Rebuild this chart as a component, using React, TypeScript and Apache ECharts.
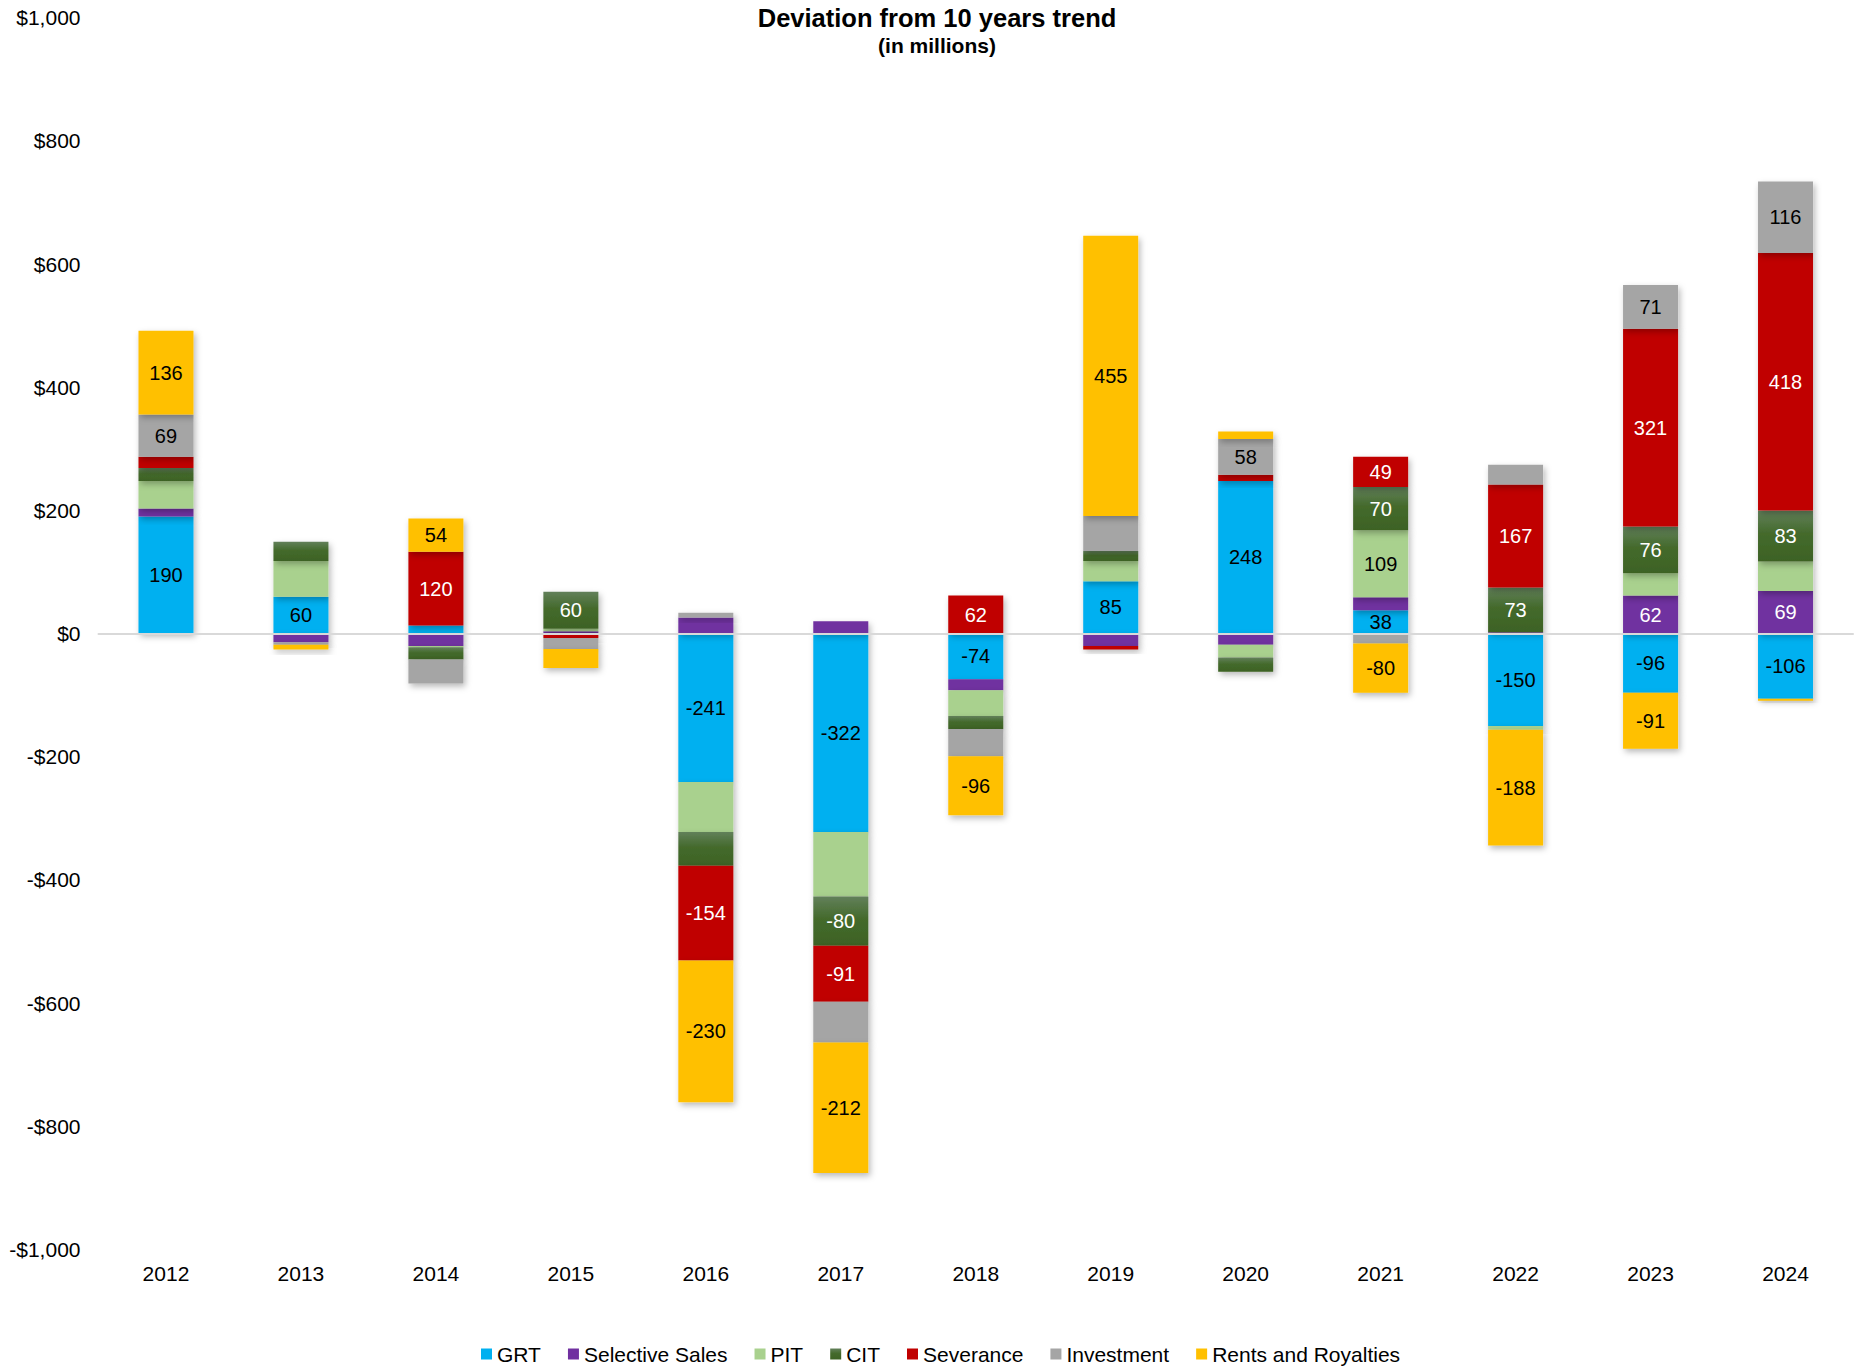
import React, { useEffect, useRef } from "react";
import * as echarts from "echarts";

const years = ["2012", "2013", "2014", "2015", "2016", "2017", "2018", "2019", "2020", "2021", "2022", "2023", "2024"];

const grt = [190, 60, 13, 0, -241, -322, -74, 85, 248, 38, -150, -96, -106];
const selectiveSales = [13, -14, -20, 4, 26, 20, -18, -20, -18, 21, 2, 62, 69];
const pit = [45, 58, -2, 4, -81, -105, -42, 33, -21, 109, -6, 36, 48];
const cit = [21, 31, -20, 60, -55, -80, -21, 16, -23, 70, 73, 76, 83];
const severance = [18, 0, 120, -7, -154, -91, 62, -6, 10, 49, 167, 321, 418];
const investment = [69, -4, -39, -18, 8, -66, -44, 57, 58, -16, 32, 71, 116];
const rentsRoyalties = [136, -8, 54, -31, -230, -212, -96, 455, 12, -80, -188, -91, -3];

// years whose segment carries a visible data label
const grtLabelled = ["2012", "2013", "2016", "2017", "2018", "2019", "2020", "2021", "2022", "2023", "2024"];
const selectiveLabelled = ["2023", "2024"];
const pitLabelled = ["2021"];
const citLabelled = ["2015", "2017", "2021", "2022", "2023", "2024"];
const severanceLabelled = ["2014", "2016", "2017", "2018", "2021", "2022", "2023", "2024"];
const investmentLabelled = ["2012", "2020", "2023", "2024"];
const rentsLabelled = ["2012", "2014", "2016", "2017", "2018", "2019", "2021", "2022", "2023"];

const yTicks = { min: -1000, max: 1000, step: 200 };

const FONT = "'Liberation Sans', Arial, sans-serif";

function fmtMoney(v: number): string {
  const a = Math.abs(v).toLocaleString("en-US");
  return v < 0 ? "-$" + a : "$" + a;
}

export default function App() {
  const ref = useRef<HTMLDivElement>(null);

  useEffect(() => {
    document.body.style.margin = "0";
    if (!ref.current) return;
    const chart = echarts.init(ref.current, undefined, { renderer: "svg" });

    const citGradient = new echarts.graphic.LinearGradient(0, 0, 0, 1, [
      { offset: 0, color: "#62805A" },
      { offset: 0.45, color: "#446A2C" },
      { offset: 1, color: "#3D6224" },
    ]);

    const defs: Array<{ name: string; data: number[]; color: any; labelColor: string; labelled: string[] }> = [
      { name: "GRT", data: grt, color: "#00B0F0", labelColor: "#000000", labelled: grtLabelled },
      { name: "Selective Sales", data: selectiveSales, color: "#7030A0", labelColor: "#FFFFFF", labelled: selectiveLabelled },
      { name: "PIT", data: pit, color: "#A9D18E", labelColor: "#000000", labelled: pitLabelled },
      { name: "CIT", data: cit, color: citGradient, labelColor: "#FFFFFF", labelled: citLabelled },
      { name: "Severance", data: severance, color: "#C00000", labelColor: "#FFFFFF", labelled: severanceLabelled },
      { name: "Investment", data: investment, color: "#A5A5A5", labelColor: "#000000", labelled: investmentLabelled },
      { name: "Rents and Royalties", data: rentsRoyalties, color: "#FFC000", labelColor: "#000000", labelled: rentsLabelled },
    ];

    const series = defs.map((d) => ({
      name: d.name,
      type: "bar",
      stack: "total",
      stackStrategy: "samesign",
      barWidth: 55,
      itemStyle: {
        color: d.color,
        shadowBlur: 6,
        shadowColor: "rgba(0,0,0,0.28)",
        shadowOffsetX: 2,
        shadowOffsetY: 3,
      },
      label: {
        show: false,
        position: "inside",
        color: d.labelColor,
        fontFamily: FONT,
        fontSize: 20,
      },
      emphasis: { disabled: true },
      data: d.data.map((v, i) => ({
        value: v,
        label: { show: d.labelled.includes(years[i]) },
      })),
    }));

    chart.setOption({
      animation: false,
      backgroundColor: "#FFFFFF",
      textStyle: { fontFamily: FONT },
      grid: { left: 98.5, right: 11, top: 17.8, bottom: 118.6, containLabel: false },
      legend: {
        left: 481,
        top: 1343,
        padding: 0,
        itemWidth: 11,
        itemHeight: 11,
        itemGap: 27,
        icon: "rect",
        textStyle: { fontFamily: FONT, fontSize: 21, color: "#000000", lineHeight: 22 },
        data: defs.map((d) => d.name),
      },
      xAxis: {
        type: "category",
        data: years,
        z: 5,
        axisTick: { show: false },
        axisLine: { show: true, onZero: true, lineStyle: { color: "#D9D9D9", width: 2 } },
        axisLabel: { fontFamily: FONT, fontSize: 21, color: "#000000", margin: 14, interval: 0 },
        splitLine: { show: false },
      },
      yAxis: {
        type: "value",
        min: yTicks.min,
        max: yTicks.max,
        interval: yTicks.step,
        axisLine: { show: false },
        axisTick: { show: false },
        splitLine: { show: false },
        axisLabel: {
          fontFamily: FONT,
          fontSize: 21,
          color: "#000000",
          margin: 18,
          formatter: (v: number) => fmtMoney(v),
        },
      },
      graphic: [
        {
          type: "text",
          x: 937,
          y: 18,
          style: {
            text: "Deviation from 10 years trend",
            align: "center",
            verticalAlign: "middle",
            fontFamily: FONT,
            fontWeight: "bold",
            fontSize: 25.5,
            fill: "#000000",
          },
        },
        {
          type: "text",
          x: 937,
          y: 45,
          style: {
            text: "(in millions)",
            align: "center",
            verticalAlign: "middle",
            fontFamily: FONT,
            fontWeight: "bold",
            fontSize: 21,
            fill: "#000000",
          },
        },
      ],
      series,
    });

    return () => chart.dispose();
  }, []);

  return <div ref={ref} style={{ width: 1864, height: 1368, overflow: "hidden" }} />;
}
